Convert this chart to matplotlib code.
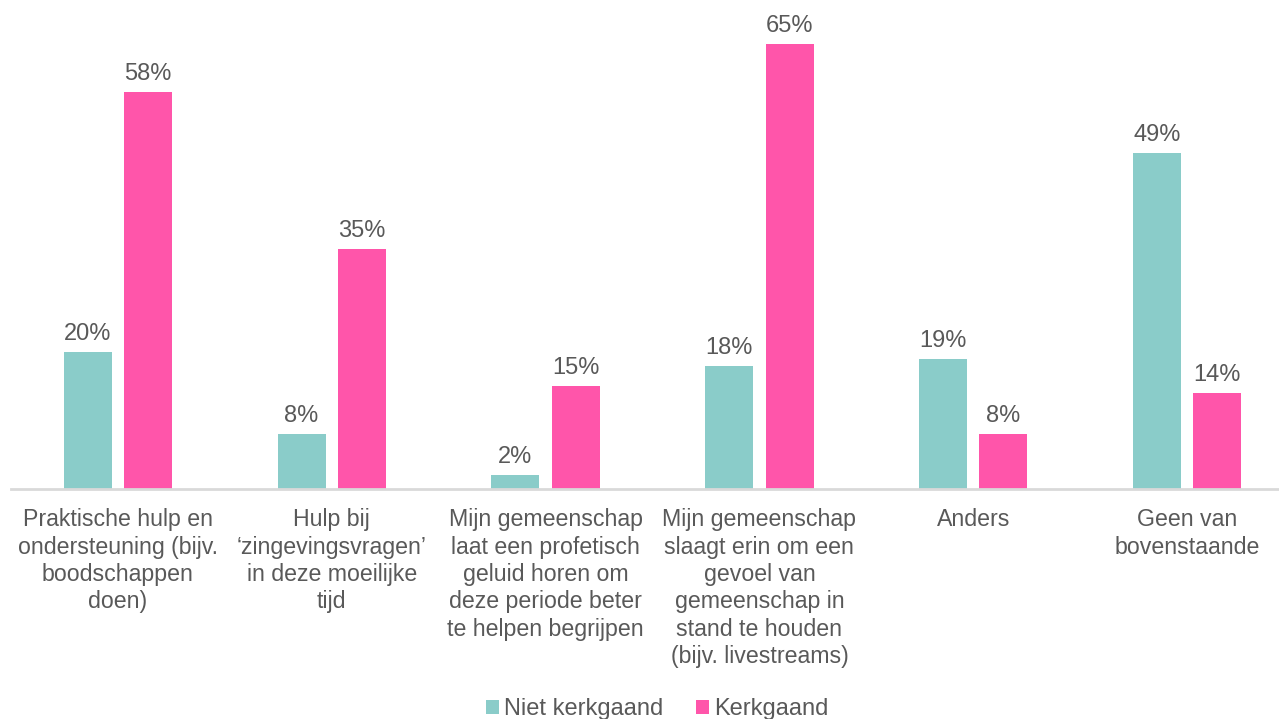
import matplotlib
matplotlib.use("Agg")
import matplotlib.pyplot as plt
import numpy as np

categories = [
    "Praktische hulp en\nondersteuning (bijv.\nboodschappen\ndoen)",
    "Hulp bij\n\u2018zingevingsvragen\u2019\nin deze moeilijke\ntijd",
    "Mijn gemeenschap\nlaat een profetisch\ngeluid horen om\ndeze periode beter\nte helpen begrijpen",
    "Mijn gemeenschap\nslaagt erin om een\ngevoel van\ngemeenschap in\nstand te houden\n(bijv. livestreams)",
    "Anders",
    "Geen van\nbovenstaande",
]
series_names = ["Niet kerkgaand", "Kerkgaand"]
niet_kerkgaand = [20, 8, 2, 18, 19, 49]
kerkgaand = [58, 35, 15, 65, 8, 14]

teal = "#8ACCC9"
pink = "#FF55AA"
txt = "#595959"

plt.rcParams['font.family'] = ['Liberation Sans', 'DejaVu Sans']

fig = plt.figure(figsize=(12.79, 7.19), dpi=100)
W, H = 1279, 719
ax = fig.add_axes([11 / W, 230 / H, 1283 / W, 489 / H])

x = np.arange(len(categories))
bw = 0.225
off = 0.141
b1 = ax.bar(x - off, niet_kerkgaand, bw, color=teal, label=series_names[0])
b2 = ax.bar(x + off, kerkgaand, bw, color=pink, label=series_names[1])

for bars, vals in ((b1, niet_kerkgaand), (b2, kerkgaand)):
    for r, v in zip(bars, vals):
        ax.annotate(f"{v}%", (r.get_x() + r.get_width() / 2, r.get_height()),
                    xytext=(0, 5), textcoords="offset points",
                    ha="center", va="bottom", fontsize=17, color=txt)

ax.set_xlim(-0.5, len(categories) - 0.5)
ax.set_ylim(0, 71.4)
ax.set_xticks(x)
ax.set_xticklabels(categories, fontsize=16.7, color=txt, linespacing=1.24, va="top")
ax.tick_params(axis="x", length=0, pad=14)
ax.set_yticks([])
for s in ("top", "right", "left"):
    ax.spines[s].set_visible(False)
ax.spines["bottom"].set_color("#D9D9D9")
ax.spines["bottom"].set_linewidth(2)

leg = fig.legend(handles=[b1, b2], loc="center", bbox_to_anchor=(657 / W, 1 - 709 / H),
                 ncol=2, frameon=False, fontsize=17, handlelength=0.55, handleheight=0.55,
                 handletextpad=0.2, columnspacing=1.4, borderaxespad=0)
for t in leg.get_texts():
    t.set_color(txt)

fig.savefig("out.png", dpi=100)
